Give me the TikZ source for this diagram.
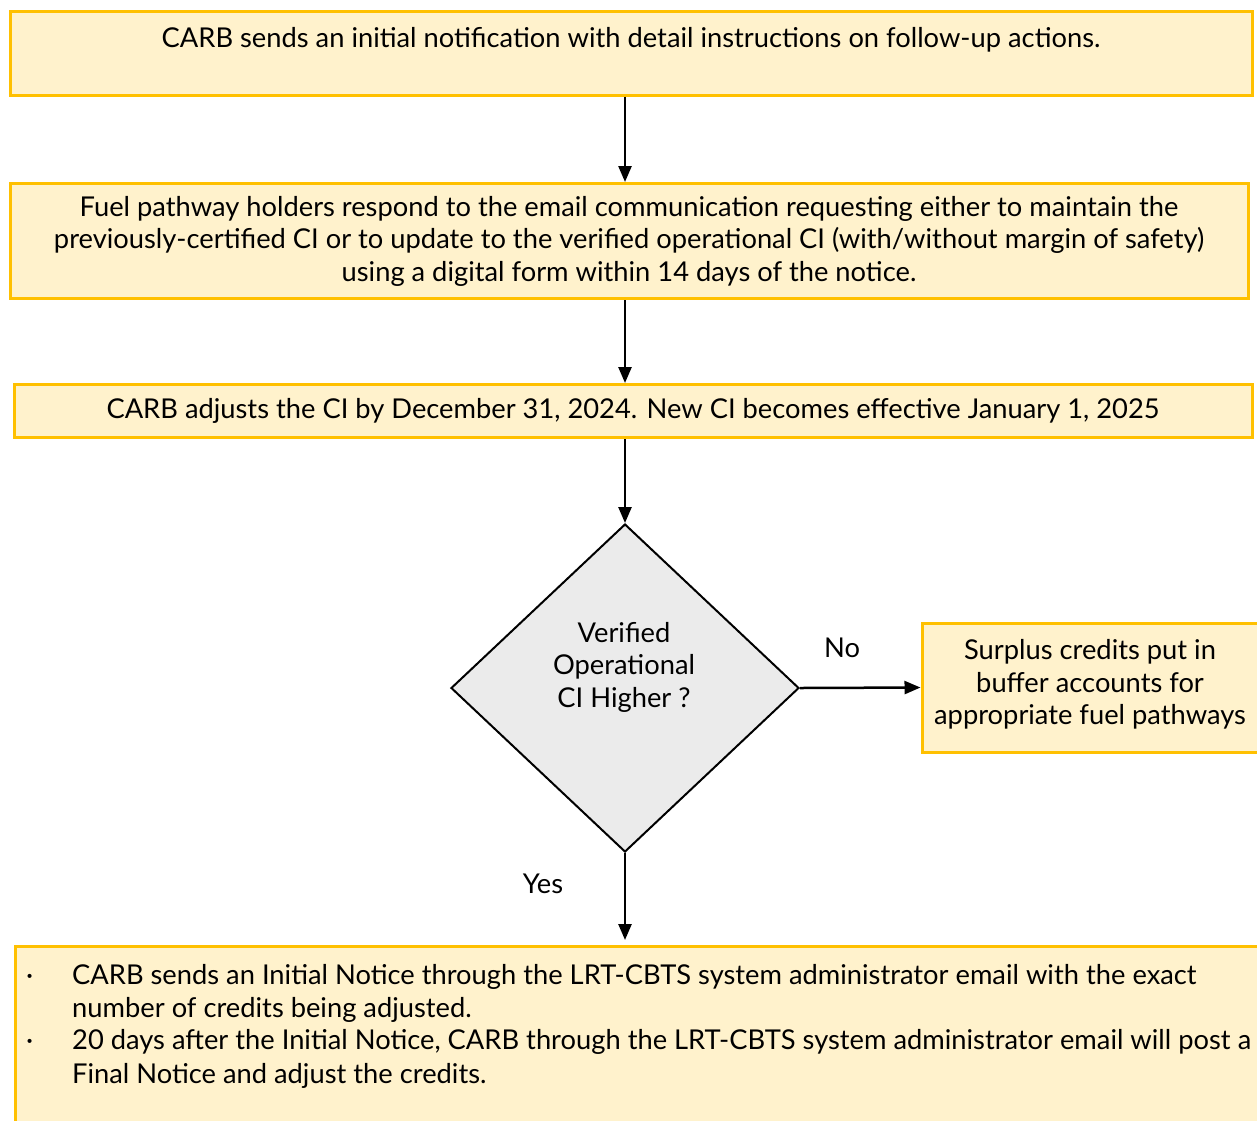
\documentclass[tikz,border=0pt]{standalone}
\usepackage{fontspec}
\setmainfont{Lato}
\usetikzlibrary{shapes.geometric,arrows.meta}

\definecolor{boxfill}{HTML}{FFF2CC}
\definecolor{boxline}{HTML}{FFC000}
\definecolor{decfill}{HTML}{EBEBEB}

\begin{document}
\begin{tikzpicture}[x=1pt, y=-1pt,
    >={Triangle[length=16pt,width=13pt]},
    every node/.style={font=\fontsize{27.3}{32.5}\selectfont, inner sep=0pt},
    stepbox/.style={draw=boxline, fill=boxfill, line width=3pt, align=center},
    decision/.style={diamond, draw, fill=decfill, line width=2pt},
    link/.style={->, line width=2.5pt}]
  \useasboundingbox (0,0) rectangle (1257,1120);

  % boxes
  \node[stepbox, minimum width=1242, minimum height=84] (notify) at (631,53)
    {CARB sends an initial notification with detail instructions on follow-up actions.\\[-12pt] \strut};
  \node[stepbox, minimum width=1238, minimum height=115] (respond) at (629,241)
    {Fuel pathway holders respond to the email communication requesting either to maintain the\\
     previously-certified CI or to update to the verified operational CI (with/without margin of safety)\\
     using a digital form within 14 days of the notice.};
  \node[stepbox, minimum width=1238, minimum height=53] (adjust) at (633,411)
    {CARB adjusts the CI by December 31, 2024. New CI becomes effective January 1, 2025};

  % decision
  \node[decision, minimum width=348, minimum height=328] (check) at (625,688) {};
  \node[align=center] (checktxt) at (624,667) {Verified\\ Operational\\ CI Higher ?};

  \node[stepbox, minimum width=336, minimum height=129] (buffer) at (1090,687.5)
    {Surplus credits put in\\ buffer accounts for\\ appropriate fuel pathways\\[-22pt] };

  \node[stepbox, anchor=north west, minimum width=1250, minimum height=185] (act) at (14,945) {};
  \node[anchor=north west, align=left] (acttxt) at (26,964)
    {\makebox[46pt][l]{·}\parbox[t]{1180pt}{CARB sends an Initial Notice through the LRT-CBTS system administrator email with the exact\\[1pt]
       number of credits being adjusted.}\\[6pt]
     \makebox[46pt][l]{·}\parbox[t]{1180pt}{20 days after the Initial Notice, CARB through the LRT-CBTS system administrator email will post a\\[1pt]
       Final Notice and adjust the credits.}};

  % labels
  \node (no) at (842,648) {No};
  \node (yes) at (543,884) {Yes};

  % connectors
  \draw[link] (notify.south -| check.north) -- (respond.north -| check.north);
  \draw[link] (respond.south -| check.north) -- (adjust.north -| check.north);
  \draw[link] (adjust.south -| check.north) -- (check.north);
  \draw[link] (check.east) -- (buffer.west);
  \draw[link, shorten >=5pt] (check.south) -- (check.south |- act.north);
\end{tikzpicture}
\end{document}
